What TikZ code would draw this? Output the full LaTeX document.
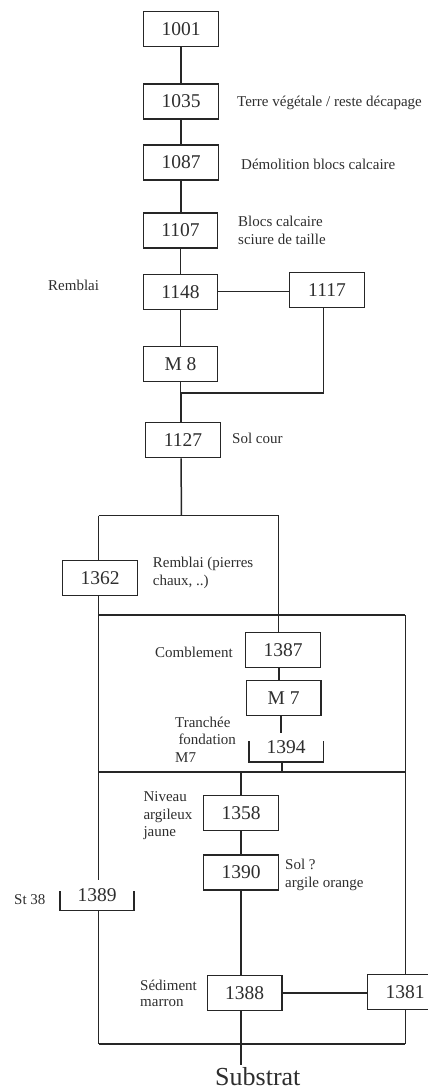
\documentclass[tikz,border=0pt]{standalone}
\usepackage{fontspec}
\setmainfont{Liberation Serif}
\definecolor{linec}{HTML}{262626}
\definecolor{textc}{HTML}{2E2E2E}
\begin{document}
\begin{tikzpicture}[x=1pt,y=-1pt]
\tikzset{
 box/.style={draw=linec, line width=1.1pt, minimum width=74.5pt, minimum height=35pt, inner sep=0pt, font=\fontsize{19.5}{22}\selectfont, text=textc},
 brk/.style={minimum width=74.3pt, inner sep=0pt, font=\fontsize{19.5}{22}\selectfont, text=textc},
 lab/.style={anchor=base west, inner sep=0pt, align=left, font=\fontsize{15}{17.5}\selectfont, text=textc},
 conn/.style={draw=linec, line width=1.5pt},
}
\useasboundingbox (0,0) rectangle (428,1090);
\clip (0,0) rectangle (428,1090);

% boxes
\node[box] (n1001) at (181,29) {1001};
\node[box] (n1035) at (181,101.5) {1035};
\node[box] (n1087) at (181,162.5) {1087};
\node[box] (n1107) at (180.5,230.5) {1107};
\node[box] (n1148) at (180.5,291.7) {1148};
\node[box] (n1117) at (327,290.2) {1117};
\node[box] (nM8) at (180.5,364) {M 8};
\node[box] (n1127) at (183,440.3) {1127};
\node[box] (n1362) at (100,578.2) {1362};
\node[box] (n1387) at (283,650.3) {1387};
\node[box] (nM7) at (283.7,698.2) {M 7};
\node[brk, minimum height=28.7pt] (n1394) at (286.2,747.3) {1394};
\node[box] (n1358) at (241,813.3) {1358};
\node[box] (n1390) at (241,872.5) {1390};
\node[brk, minimum height=30pt, minimum width=74pt] (n1389) at (97,895.5) {1389};
\node[box] (n1388) at (244.7,992.8) {1388};
\node[box] (n1381) at (405,991.8) {1381};
\node[anchor=base west, inner sep=2pt, font=\fontsize{26}{30}\selectfont, text=textc] (sub) at (213,1085) {Substrat};

% labels (anchor = baseline of the last line)
\node[lab] (l1035) at (237,106.5) {Terre végétale / reste décapage};
\node[lab] (l1087) at (241,169) {Démolition blocs calcaire};
\node[lab] (l1107) at (238,244.3) {Blocs calcaire\\sciure de taille};
\node[lab] (l1148) at (48,290.7) {Remblai};
\node[lab] (l1127) at (232,443.3) {Sol cour};
\node[lab] (l1362) at (152.7,585) {Remblai (pierres\\chaux, ..)};
\node[lab] (l1387) at (155,657.7) {Comblement};
\node[lab] (l1394) at (175,762.3) {Tranchée\\\hspace{3.3pt}fondation\\M7};
\node[lab] (l1358) at (143.3,836.7) {Niveau\\argileux\\jaune};
\node[lab] (l1390) at (285,887.3) {Sol ?\\argile orange};
\node[lab] (l1389) at (14,904.3) {St 38};
\node[lab, font=\fontsize{15}{16.7}\selectfont] (l1388) at (140,1006.7) {Sédiment\\marron};

% coordinates
\coordinate (j1) at (181,393);
\coordinate (j2) at (323.3,393);
\coordinate (j3) at (181.5,515.7);
\coordinate (jL) at (98.7,515.7);
\coordinate (jR) at (278.5,515.7);
\coordinate (rTL) at (98.7,615);
\coordinate (rTR) at (405.3,615);
\coordinate (mL) at (98.7,772);
\coordinate (mR) at (405.3,772);
\coordinate (bL) at (98.7,1044);
\coordinate (bR) at (405.3,1044);

% connectors
\draw[conn] (n1001.south) -- (n1035.north);
\draw[conn] (n1035.south) -- (n1087.north);
\draw[conn] (n1087.south) -- (n1087.south |- n1107.north);
\draw[conn] (n1107.south) -- (n1148.north);
\draw[conn] (n1148.east) -- (n1148.east -| n1117.west);
\draw[conn] (n1148.south) -- (nM8.north);
\draw[conn] (nM8.south) -- (nM8.south |- j1) -- (j1);
\draw[conn] (n1117.south -| j2) -- (j2) -- (j1);
\draw[conn] (j1) -- (j1 |- n1127.north);
\draw[conn] (j1 |- n1127.south) -- (j3);
\draw[conn] (jL) -- (jR);
\draw[conn] (jL) -- (jL |- n1362.north);
\draw[conn] (jR) -- (jR |- n1387.north);
\draw[conn] ([xshift=-4pt]n1387.south) -- ([xshift=-4pt]n1387.south |- nM7.north);
\draw[conn] ([xshift=-2.7pt]nM7.south) -- ([xshift=-2.7pt]nM7.south |- n1394.north);
\draw[conn] ([yshift=-8.7pt]n1394.north west) -- (n1394.south west) -- (n1394.south east) -- ([yshift=-8.7pt]n1394.north east);
\draw[conn] ([xshift=-4pt]n1394.south) -- ([xshift=-4pt]n1394.south |- mL);
% frame
\draw[conn] (rTL) -- (rTR);
\draw[conn] (mL) -- (mR);
\draw[conn] (bL) -- (bR);
\draw[conn] (n1362.south -| rTL) -- (rTL |- n1389.north);
\draw[conn] ([yshift=-11pt]n1389.north west) -- (n1389.south west) -- (n1389.south east) -- ([yshift=-11pt]n1389.north east);
\draw[conn] (rTL |- n1389.south) -- (bL);
\draw[conn] (rTR) -- (rTR |- n1381.north);
\draw[conn] (rTR |- n1381.south) -- (bR);
% lower column
\draw[conn] (mL -| n1358.north) -- (n1358.north);
\draw[conn] (n1358.south) -- (n1390.north);
\draw[conn] (n1390.south) -- (n1390.south |- n1388.north);
\draw[conn] (n1388.east) -- (n1388.east -| n1381.west);
\draw[conn] (n1390.south |- n1388.south) -- (n1390.south |- sub.north);
\end{tikzpicture}
\end{document}
